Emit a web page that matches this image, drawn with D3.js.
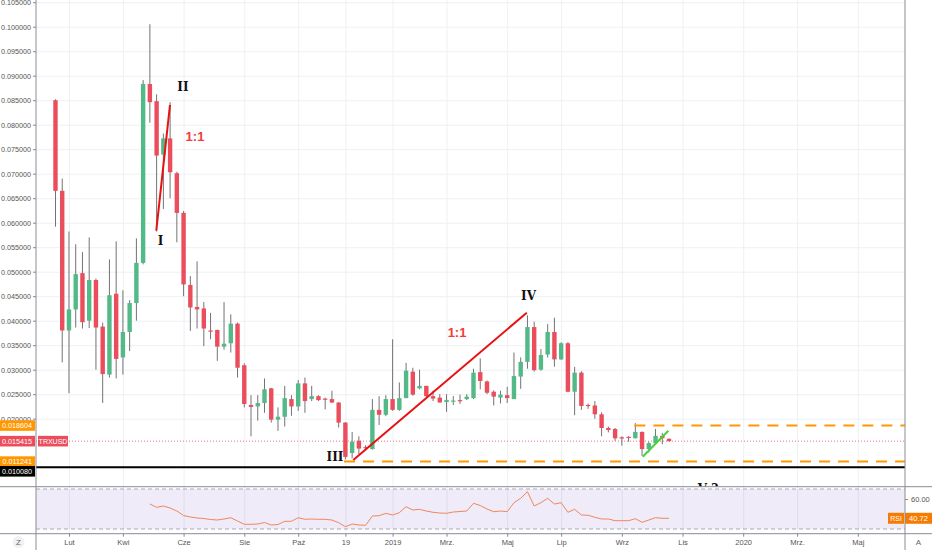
<!DOCTYPE html>
<html>
<head>
<meta charset="utf-8">
<script src="https://cdn.jsdelivr.net/npm/d3@7"></script>
<style>
  body { margin: 0; background: #fff; }
  svg { display: block; font-family: "Liberation Sans", Arial, sans-serif; }
</style>
</head>
<body>
<div class="chart"></div>
<script>
// Weekly TRXUSD candles (week index 0 = first bar on the chart)
const opens  = [.0850,.0665,.0380,.0423,.0497,.0400,.0483,.0388,.0290,.0455,.0325,.0377,.0436,.0518,.0883,.0848,.0739,.0772,.0701,.0620,
                .0473,.0428,.0425,.0380,.0381,.0347,.0354,.0394,.0309,.0228,.0225,.0232,.0262,.0198,.0204,.0240,.0225,.0272,.0240,.0246,
                .0241,.0240,.0233,.0192,.0130,.0155,.0142,.0138,.0218,.0208,.0240,.0218,.0242,.0296,.0262,.0267,.0246,.0243,.0234,.0236,
                .0238,.0240,.0242,.0295,.0276,.0255,.0243,.0248,.0240,.0286,.0316,.0387,.0300,.0331,.0377,.0321,.0354,.0255,.0294,.0228,
                .0227,.0209,.0181,.0179,.0162,.0163,.0160,.0173,.0138,.0150,.0165,.0159];
const highs  = [.0852,.0690,.0582,.0556,.0540,.0570,.0486,.0396,.0525,.0562,.0462,.0442,.0568,.0891,.1005,.0862,.0782,.0846,.0704,.0624,
                .0491,.0521,.0438,.0416,.0382,.0438,.0413,.0396,.0313,.0248,.0248,.0282,.0263,.0223,.0267,.0248,.0279,.0284,.0267,.0248,
                .0243,.0257,.0234,.0193,.0173,.0164,.0146,.0240,.0246,.0248,.0362,.0274,.0314,.0304,.0300,.0267,.0257,.0250,.0250,.0246,
                .0249,.0250,.0302,.0323,.0278,.0258,.0257,.0265,.0335,.0325,.0411,.0398,.0342,.0393,.0406,.0356,.0356,.0306,.0297,.0231,
                .0236,.0213,.0184,.0181,.0164,.0164,.0191,.0174,.0153,.0179,.0171,.0160];
const lows   = [.0592,.0315,.0252,.0386,.0384,.0385,.0300,.0232,.0284,.0282,.0290,.0338,.0400,.0515,.0804,.0582,.0628,.0650,.0560,.0450,
                .0379,.0384,.0348,.0362,.0318,.0341,.0335,.0284,.0223,.0164,.0196,.0212,.0192,.0175,.0184,.0206,.0216,.0212,.0236,.0236,
                .0219,.0232,.0182,.0117,.0119,.0128,.0137,.0137,.0187,.0205,.0216,.0216,.0242,.0247,.0260,.0244,.0236,.0233,.0214,.0228,
                .0230,.0238,.0240,.0260,.0250,.0227,.0231,.0232,.0240,.0261,.0302,.0296,.0298,.0325,.0306,.0320,.0254,.0207,.0218,.0220,
                .0200,.0164,.0172,.0155,.0145,.0153,.0160,.0124,.0131,.0148,.0148,.0153];
const closes = [.0665,.0380,.0423,.0495,.0397,.0483,.0386,.0291,.0452,.0322,.0377,.0436,.0518,.0883,.0846,.0737,.0772,.0703,.0620,.0474,
                .0427,.0423,.0384,.0378,.0347,.0353,.0394,.0304,.0230,.0224,.0232,.0260,.0198,.0204,.0242,.0225,.0272,.0236,.0246,.0238,
                .0239,.0233,.0192,.0122,.0153,.0139,.0140,.0218,.0208,.0240,.0218,.0242,.0298,.0249,.0267,.0246,.0241,.0233,.0238,.0237,
                .0237,.0245,.0294,.0277,.0253,.0245,.0249,.0242,.0287,.0316,.0387,.0299,.0330,.0377,.0321,.0354,.0255,.0294,.0226,.0227,
                .0209,.0181,.0177,.0160,.0161,.0161,.0173,.0138,.0150,.0165,.0160,.015415];

// RSI, first value belongs to week 14
const rsiStart = 14;
const rsiValues = [55,51.7,53,51,48,43.5,42,41,40.5,39.5,39,40,41.3,38,34.7,34.7,35,36.5,34,34.5,
                   37.7,37.7,41.3,39.7,40,39.7,39.7,39,36.3,32.3,35,34,33.7,43,43.3,45.7,44,46.3,52.3,49,
                   49.7,48,46.7,46,45.7,47,47.5,48,55.7,53.5,50,47.3,48,47.3,56.3,60.7,67.3,53,56.3,60.7,
                   55,56.3,46.7,49.7,44,43.7,41.7,40,40,38.3,38.3,38.3,40.3,36.7,39,41.3,40.7,40.72];

// Axis ticks
const priceTicks = [0.105,0.100,0.095,0.090,0.085,0.080,0.075,0.070,0.065,0.060,0.055,0.050,0.045,0.040,0.035,0.030,0.025,0.020];
const timeTicks  = [2,10,19,28,36,43,50,58,67,75,84,93,102,110,119];
const timeLabels = ["Lut","Kwi","Cze","Sie","Paź","19","2019","Mrz.","Maj","Lip","Wrz","Lis","2020","Mrz.","Maj"];
const rsiTicks = [60];

// Levels and drawings (in week index / price units)
const lastPrice = 0.015415, upperLevel = 0.018604, lowerLevel = 0.011241, supportLevel = 0.010080;
const upperLevelStart = 85.86, lowerLevelStart = 42.8;
const redLegs = [[[14.95, .05837], [16.98, .08402]], [[44.17, .01157], [69.9, .04163]]];
const greenLeg = [[87.1, .01224], [90.9, .01755]];
const waveTexts = ["I", "II", "III", "IV", "V ?"];
const wavePos   = [[15.57, .05545], [18.91, .08694], [41.46, .01143], [70.16, .04422], [96.79, .00484]];
const ratioTexts = ["1:1", "1:1"];
const ratioPos   = [[20.69, .07673], [59.56, .03667]];

const W = 932, H = 550;
const axisX = 36, rightX = 905;
const mainBottom = 486.7, rsiBottom = 533.7;
const up = "#53b987", down = "#eb4d5c";

const svg = d3.select(".chart").append("svg")
    .attr("width", W)
    .attr("height", H);

const x = d3.scaleLinear().domain([-2.89, 126.0]).range([axisX, rightX]);
const y = d3.scaleLinear().domain([0.00612, 0.10545]).range([mainBottom, 0]);
const yr = d3.scaleLinear().domain([25.3, 72.3]).range([rsiBottom, mainBottom]);

svg.append("clipPath").attr("id", "mainClip")
    .append("rect").attr("x", axisX).attr("y", 0).attr("width", rightX - axisX).attr("height", mainBottom);

// Grid
svg.append("g")
    .attr("transform", `translate(${axisX},0)`)
    .call(d3.axisRight(y).tickValues(priceTicks).tickSize(rightX - axisX).tickFormat(""))
    .call(g => g.select(".domain").remove())
    .selectAll("line").attr("stroke", "#eef0f4");

svg.append("g")
    .attr("transform", `translate(0,${rsiBottom})`)
    .call(d3.axisTop(x).tickValues(timeTicks).tickSize(rsiBottom).tickFormat(""))
    .call(g => g.select(".domain").remove())
    .selectAll("line").attr("stroke", "#eef0f4");

// RSI band
svg.append("rect")
    .attr("x", axisX).attr("width", rightX - axisX)
    .attr("y", yr(70)).attr("height", yr(30) - yr(70))
    .attr("fill", "#7e57c2").attr("fill-opacity", 0.12);
[70, 30].forEach(v => {
  svg.append("line")
      .attr("x1", axisX).attr("x2", rightX).attr("y1", yr(v)).attr("y2", yr(v))
      .attr("stroke", "#a9a9b3").attr("stroke-dasharray", "4,3");
});

const rsiLine = d3.line()
    .x((d, i) => x(rsiStart + i))
    .y(d => yr(d));
svg.append("path")
    .datum(rsiValues)
    .attr("d", rsiLine)
    .attr("fill", "none")
    .attr("stroke", "#f0875a")
    .attr("stroke-width", 1);

// Main pane
const main = svg.append("g").attr("clip-path", "url(#mainClip)");

// Price line and support
main.append("line")
    .attr("x1", axisX).attr("x2", rightX).attr("y1", y(lastPrice)).attr("y2", y(lastPrice))
    .attr("stroke", "#eb4d5c").attr("stroke-width", 0.8).attr("stroke-dasharray", "1,2");
main.append("line")
    .attr("x1", axisX).attr("x2", rightX).attr("y1", y(supportLevel)).attr("y2", y(supportLevel))
    .attr("stroke", "#000").attr("stroke-width", 2);

// Candles
const idx = d3.range(opens.length);
main.append("g").selectAll("line")
    .data(idx).enter().append("line")
    .attr("x1", i => x(i)).attr("x2", i => x(i))
    .attr("y1", i => y(highs[i])).attr("y2", i => y(lows[i]))
    .attr("stroke", "#737375").attr("stroke-width", 1);
main.append("g").selectAll("rect")
    .data(idx).enter().append("rect")
    .attr("x", i => x(i) - 2.2)
    .attr("width", 4.4)
    .attr("y", i => y(Math.max(opens[i], closes[i])))
    .attr("height", i => Math.max(1.2, Math.abs(y(opens[i]) - y(closes[i]))))
    .attr("fill", i => closes[i] >= opens[i] ? up : down);

// Orange dashed levels
[[upperLevel, upperLevelStart], [lowerLevel, lowerLevelStart]].forEach(([v, s]) => {
  main.append("line")
      .attr("x1", x(s)).attr("x2", rightX).attr("y1", y(v)).attr("y2", y(v))
      .attr("stroke", "#ff9800").attr("stroke-width", 2).attr("stroke-dasharray", "11,8");
});

// Drawn legs
redLegs.forEach(seg => {
  main.append("line")
      .attr("x1", x(seg[0][0])).attr("y1", y(seg[0][1]))
      .attr("x2", x(seg[1][0])).attr("y2", y(seg[1][1]))
      .attr("stroke", "#e81010").attr("stroke-width", 2);
});
main.append("line")
    .attr("x1", x(greenLeg[0][0])).attr("y1", y(greenLeg[0][1]))
    .attr("x2", x(greenLeg[1][0])).attr("y2", y(greenLeg[1][1]))
    .attr("stroke", "#4cd137").attr("stroke-width", 2);

// Labels
main.selectAll("text.wave")
    .data(waveTexts).enter().append("text")
    .attr("class", "wave")
    .attr("x", (d, i) => x(wavePos[i][0])).attr("y", (d, i) => y(wavePos[i][1]))
    .attr("text-anchor", "middle")
    .attr("font-family", "'DejaVu Serif', serif").attr("font-weight", "bold").attr("font-size", 12)
    .attr("fill", "#111").text(d => d);
main.selectAll("text.ratio")
    .data(ratioTexts).enter().append("text")
    .attr("class", "ratio")
    .attr("x", (d, i) => x(ratioPos[i][0])).attr("y", (d, i) => y(ratioPos[i][1]))
    .attr("text-anchor", "middle")
    .attr("font-weight", "bold").attr("font-size", 13)
    .attr("fill", "#f23b3b").text(d => d);

// Price axis (left)
const yAxis = svg.append("g")
    .attr("transform", `translate(${axisX},0)`)
    .call(d3.axisLeft(y).tickValues(priceTicks).tickSize(3).tickPadding(2).tickFormat(d3.format(".6f")));
yAxis.select(".domain").remove();
yAxis.selectAll("text").attr("font-size", 7.2).attr("fill", "#555");
yAxis.selectAll("line").attr("stroke", "#888");

// Price tags
const tags = [
  { v: upperLevel, fill: "#ff9800", dy: 0 },
  { v: lastPrice, fill: "#eb4d5c", dy: 0 },
  { v: lowerLevel, fill: "#ff9800", dy: 0 },
  { v: supportLevel, fill: "#000", dy: 4 }
];
tags.forEach(t => {
  const cy = y(t.v) + t.dy;
  svg.append("rect").attr("x", 0).attr("y", cy - 5.3).attr("width", 35).attr("height", 10.6).attr("fill", t.fill);
  svg.append("text").attr("x", 32).attr("y", cy + 2.5).attr("text-anchor", "end")
      .attr("font-size", 7.2).attr("fill", "#fff").text(d3.format(".6f")(t.v));
});
svg.append("rect").attr("x", 38).attr("y", y(lastPrice) - 5.3).attr("width", 30).attr("height", 10.6).attr("fill", "#eb4d5c");
svg.append("text").attr("x", 53).attr("y", y(lastPrice) + 2.5).attr("text-anchor", "middle")
    .attr("font-size", 7).attr("fill", "#fff").text("TRXUSD");

// Time axis
const xAxis = svg.append("g")
    .attr("transform", `translate(0,${rsiBottom})`)
    .call(d3.axisBottom(x).tickValues(timeTicks).tickSize(3).tickPadding(3).tickFormat((d, i) => timeLabels[i]));
xAxis.select(".domain").remove();
xAxis.selectAll("text").attr("font-size", 7.5).attr("fill", "#555");
xAxis.selectAll("line").attr("stroke", "#888");

// RSI axis (right)
const rAxis = svg.append("g")
    .attr("transform", `translate(${rightX},0)`)
    .call(d3.axisRight(yr).tickValues(rsiTicks).tickSize(3).tickPadding(3).tickFormat(d3.format(".2f")));
rAxis.select(".domain").remove();
rAxis.selectAll("text").attr("font-size", 7.5).attr("fill", "#555");
rAxis.selectAll("line").attr("stroke", "#888");

const rsiLast = rsiValues[rsiValues.length - 1];
svg.append("rect").attr("x", rightX).attr("y", yr(rsiLast) - 5.5).attr("width", 27).attr("height", 11).attr("fill", "#f57c00");
svg.append("text").attr("x", rightX + 13.5).attr("y", yr(rsiLast) + 2.6).attr("text-anchor", "middle")
    .attr("font-size", 7.5).attr("fill", "#fff").text(d3.format(".2f")(rsiLast));
svg.append("rect").attr("x", rightX - 17).attr("y", yr(rsiLast) - 5.5).attr("width", 16).attr("height", 11).attr("fill", "#f57c00");
svg.append("text").attr("x", rightX - 9).attr("y", yr(rsiLast) + 2.6).attr("text-anchor", "middle")
    .attr("font-size", 7).attr("fill", "#fff").text("RSI");

// Frame lines
svg.append("line").attr("x1", axisX).attr("x2", axisX).attr("y1", 0).attr("y2", H).attr("stroke", "#8a8d96");
svg.append("line").attr("x1", rightX).attr("x2", rightX).attr("y1", 0).attr("y2", H).attr("stroke", "#8a8d96");
svg.append("line").attr("x1", 0).attr("x2", W).attr("y1", mainBottom).attr("y2", mainBottom).attr("stroke", "#8a8d96");
svg.append("line").attr("x1", 0).attr("x2", W).attr("y1", rsiBottom).attr("y2", rsiBottom).attr("stroke", "#8a8d96");

// Corner buttons
svg.append("circle").attr("cx", 18.5).attr("cy", 542).attr("r", 6).attr("fill", "#f0f1f4");
svg.append("text").attr("x", 18.5).attr("y", 544.8).attr("text-anchor", "middle")
    .attr("font-size", 8).attr("fill", "#666").text("Z");
svg.append("text").attr("x", 918.5).attr("y", 544.5).attr("text-anchor", "middle")
    .attr("font-size", 8).attr("fill", "#666").text("A");
</script>
</body>
</html>
